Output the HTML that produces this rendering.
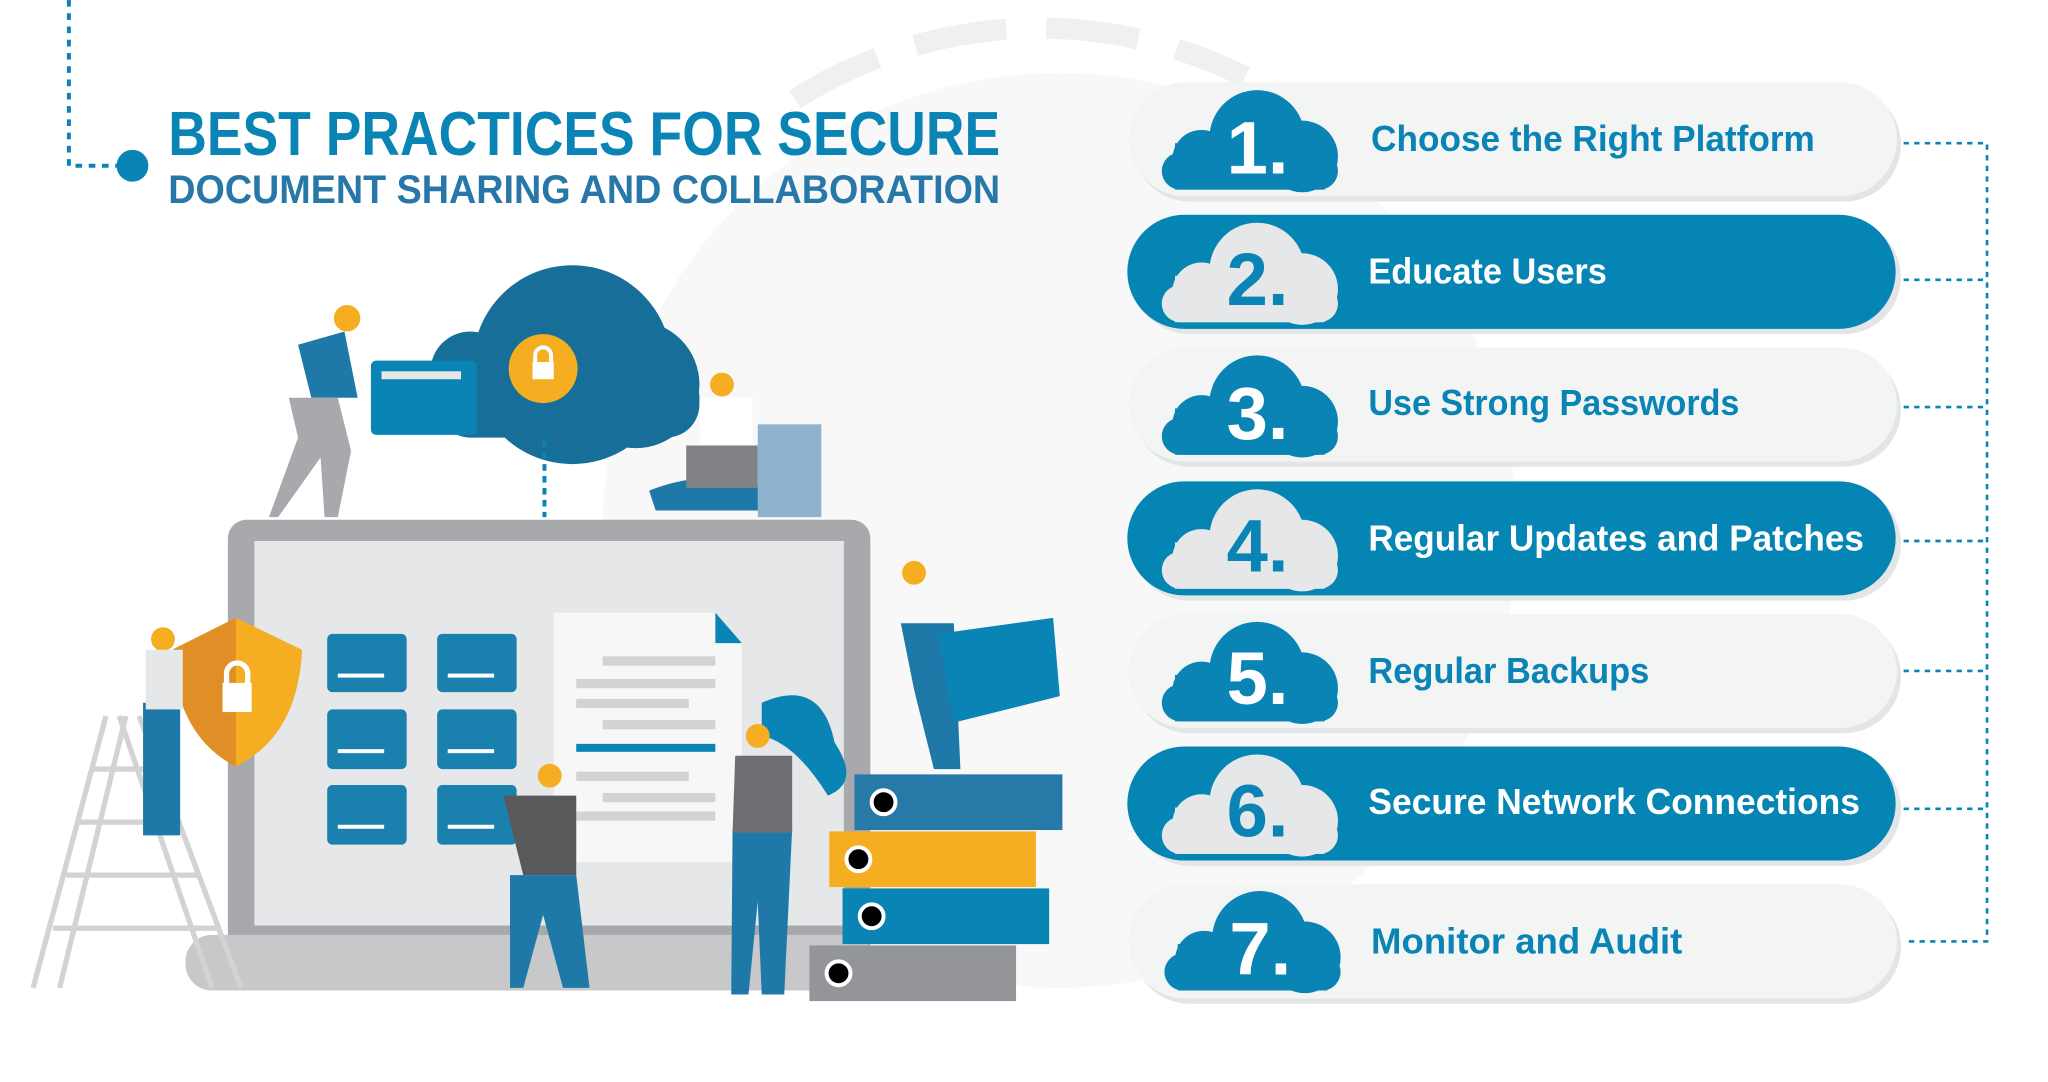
<!DOCTYPE html>
<html><head><meta charset="utf-8"><style>html,body{margin:0;padding:0;background:#fff}svg{display:block}</style></head>
<body>
<svg width="2048" height="1082" viewBox="0 0 1546 816" preserveAspectRatio="none" xmlns="http://www.w3.org/2000/svg" font-family="Liberation Sans, sans-serif">
<defs>
<g id="cl"><circle cx="72" cy="36" r="36"/><circle cx="30" cy="52" r="22"/><circle cx="106" cy="50" r="27"/><rect x="0" y="47" width="133" height="28" rx="14"/><rect x="10" y="40" width="113" height="35"/></g>
</defs>
<!-- background circle -->
<circle cx="800" cy="400" r="345" fill="#f8f8f8"/>
<path d="M600 75 A345 345 0 0 1 940 58" stroke="#f0f0f0" stroke-width="16" fill="none" stroke-dasharray="70 30"/>
<!-- title connector -->
<path d="M52 0 V125 H95" stroke="#0a84b5" stroke-width="3" fill="none" stroke-dasharray="5 5"/>
<circle cx="100" cy="125" r="12" fill="#0a84b5"/>
<text x="127" y="117" font-size="47" font-weight="bold" fill="#0a84b5" textLength="628" lengthAdjust="spacingAndGlyphs">BEST PRACTICES FOR SECURE</text>
<text x="127" y="153" font-size="30" font-weight="bold" fill="#2778a8" textLength="628" lengthAdjust="spacingAndGlyphs">DOCUMENT SHARING AND COLLABORATION</text>
<!-- right connectors -->
<g stroke="#0a84b5" stroke-width="2" stroke-dasharray="4 4" fill="none">
<path d="M1437 108 H1500 V710 H1437"/><path d="M1437 211 H1500"/><path d="M1437 307 H1500"/><path d="M1437 408 H1500"/><path d="M1437 506 H1500"/><path d="M1437 610 H1500"/>
</g>
<!-- pills -->
<g>
<rect x="855" y="66" width="580" height="86" rx="43" fill="#e3e5e6"/><rect x="852" y="62" width="580" height="86" rx="43" fill="#f3f4f4"/>
<rect x="855" y="166" width="580" height="86" rx="43" fill="#e3e5e6"/><rect x="851" y="162" width="580" height="86" rx="43" fill="#0585b4"/>
<rect x="855" y="266" width="580" height="86" rx="43" fill="#e3e5e6"/><rect x="852" y="262" width="580" height="86" rx="43" fill="#f3f4f4"/>
<rect x="855" y="367" width="580" height="86" rx="43" fill="#e3e5e6"/><rect x="851" y="363" width="580" height="86" rx="43" fill="#0585b4"/>
<rect x="855" y="467" width="580" height="86" rx="43" fill="#e3e5e6"/><rect x="852" y="463" width="580" height="86" rx="43" fill="#f3f4f4"/>
<rect x="855" y="567" width="580" height="86" rx="43" fill="#e3e5e6"/><rect x="851" y="563" width="580" height="86" rx="43" fill="#0585b4"/>
<rect x="855" y="671" width="580" height="86" rx="43" fill="#e3e5e6"/><rect x="852" y="667" width="580" height="86" rx="43" fill="#f3f4f4"/>
</g>
<g fill="#0a83b5"><use href="#cl" transform="translate(877,68)"/><use href="#cl" transform="translate(877,268)"/><use href="#cl" transform="translate(877,469)"/><use href="#cl" transform="translate(879,672)"/></g>
<g fill="#e6e7e8"><use href="#cl" transform="translate(877,168)"/><use href="#cl" transform="translate(877,369)"/><use href="#cl" transform="translate(877,569)"/></g>
<g font-size="56" font-weight="bold">
<text x="926" y="131" fill="#fff">1.</text><text x="926" y="230" fill="#0a83b5">2.</text><text x="926" y="331" fill="#fff">3.</text>
<text x="926" y="431" fill="#0a83b5">4.</text><text x="926" y="531" fill="#fff">5.</text><text x="926" y="631" fill="#0a83b5">6.</text><text x="928" y="735" fill="#fff">7.</text>
</g>
<g font-size="27" font-weight="bold">
<text x="1035" y="114" fill="#0a83b5" textLength="335" lengthAdjust="spacingAndGlyphs">Choose the Right Platform</text>
<text x="1033" y="214" fill="#fff" textLength="180" lengthAdjust="spacingAndGlyphs">Educate Users</text>
<text x="1033" y="313" fill="#0a83b5" textLength="280" lengthAdjust="spacingAndGlyphs">Use Strong Passwords</text>
<text x="1033" y="415" fill="#fff" textLength="374" lengthAdjust="spacingAndGlyphs">Regular Updates and Patches</text>
<text x="1033" y="515" fill="#0a83b5" textLength="212" lengthAdjust="spacingAndGlyphs">Regular Backups</text>
<text x="1033" y="614" fill="#fff" textLength="371" lengthAdjust="spacingAndGlyphs">Secure Network Connections</text>
<text x="1035" y="719" fill="#0a83b5" textLength="235" lengthAdjust="spacingAndGlyphs">Monitor and Audit</text>
</g>
<!-- monitor -->
<rect x="172" y="392" width="485" height="354" rx="14" fill="#a7a9ac"/>
<rect x="192" y="408" width="445" height="290" fill="#e6e7e8"/>
<rect x="140" y="705" width="520" height="42" rx="20" fill="#c7c8ca"/>
<!-- cloud -->
<g fill="#176f99"><circle cx="432" cy="275" r="75"/><circle cx="355" cy="280" r="30"/><circle cx="480" cy="290" r="48"/><rect x="330" y="275" width="198" height="55" rx="25"/></g>
<circle cx="410" cy="278" r="26" fill="#f5ae22"/><rect x="402" y="273" width="16" height="13" fill="#fff"/><path d="M404 274 v-6 a6 6 0 0 1 12 0 v6" stroke="#fff" stroke-width="3" fill="none"/>
<path d="M411 332 V390" stroke="#0a84b5" stroke-width="3" stroke-dasharray="5 4"/>
<rect x="280" y="272" width="80" height="56" rx="4" fill="#0a84b5"/><rect x="288" y="280" width="60" height="6" fill="#e6e7e8"/>
<!-- folders -->
<g fill="#1a80ad">
<rect x="247" y="478" width="60" height="44" rx="4"/><rect x="330" y="478" width="60" height="44" rx="4"/>
<rect x="247" y="535" width="60" height="45" rx="4"/><rect x="330" y="535" width="60" height="45" rx="4"/>
<rect x="247" y="592" width="60" height="45" rx="4"/><rect x="330" y="592" width="60" height="45" rx="4"/>
</g>
<g fill="#fff"><rect x="255" y="508" width="35" height="3"/><rect x="338" y="508" width="35" height="3"/><rect x="255" y="565" width="35" height="3"/><rect x="338" y="565" width="35" height="3"/><rect x="255" y="622" width="35" height="3"/><rect x="338" y="622" width="35" height="3"/></g>
<!-- document -->
<path d="M418 462 H540 L560 485 V650 H418 Z" fill="#f7f7f7"/><path d="M540 462 L560 485 H540 Z" fill="#0a84b5"/>
<g fill="#d1d3d4"><rect x="455" y="495" width="85" height="7"/><rect x="435" y="512" width="105" height="7"/><rect x="435" y="527" width="85" height="7"/><rect x="455" y="543" width="85" height="7"/><rect x="435" y="582" width="85" height="7"/><rect x="455" y="598" width="85" height="7"/><rect x="435" y="612" width="105" height="7"/></g>
<rect x="435" y="561" width="105" height="6" fill="#0a84b5"/>
<!-- shield -->
<path d="M178 466 L228 490 Q225 555 178 578 Q133 555 130 490 Z" fill="#f5ae22"/><path d="M178 466 L178 578 Q133 555 130 490 Z" fill="#e08e26"/>
<rect x="168" y="515" width="22" height="22" fill="#fff"/><path d="M171 516 v-8 a8 8 0 0 1 16 0 v8" stroke="#fff" stroke-width="4" fill="none"/>
<!-- ladder -->
<g stroke="#d1d3d4" stroke-width="4"><path d="M25 745 L80 540 M95 540 L45 745 M90 540 L160 745 M105 540 L182 745"/><path d="M40 700 H165 M50 660 H150 M58 620 H135 M68 580 H120"/></g>
<!-- people (simplified) -->
<g fill="#1f79a8"><rect x="108" y="530" width="28" height="100"/><path d="M225 260 L260 250 L270 300 L235 300Z"/><path d="M380 600 L435 600 L435 660 L395 660Z" fill="#58595b"/><path d="M385 660 L435 660 L445 745 L425 745 L410 690 L395 745 L385 745Z"/><path d="M553 625 L598 625 L592 750 L575 750 L572 680 L565 750 L552 750Z"/><path d="M680 470 L720 470 L725 580 L705 580 L690 520Z"/><path d="M490 370 Q540 350 590 372 L590 385 L495 385Z"/></g>
<path d="M555 570 L598 570 L598 628 L553 628Z" fill="#6d6e71"/>
<path d="M575 530 Q620 510 630 560 Q650 590 625 600 Q600 560 575 555Z" fill="#0a84b5"/>
<path d="M218 300 L255 300 L265 340 L255 390 L245 390 L242 345 L210 390 L203 390 L225 330Z" fill="#a7a9ac"/>
<circle cx="262" cy="240" r="10" fill="#f5ae22"/><circle cx="415" cy="585" r="9" fill="#f5ae22"/><circle cx="572" cy="555" r="9" fill="#f5ae22"/><circle cx="690" cy="432" r="9" fill="#f5ae22"/><circle cx="123" cy="482" r="9" fill="#f5ae22"/><circle cx="545" cy="290" r="9" fill="#f5ae22"/>
<rect x="110" y="490" width="28" height="45" fill="#e6e7e8"/><rect x="528" y="300" width="40" height="35" fill="#fff"/>
<rect x="518" y="336" width="54" height="32" fill="#808285"/>
<rect x="572" y="320" width="48" height="70" fill="#8fb3cf"/>
<path d="M708 478 L795 466 L800 525 L720 545Z" fill="#0a84b5"/>
<!-- binders -->
<rect x="645" y="584" width="157" height="42" fill="#2779a8"/><rect x="626" y="627" width="156" height="42" fill="#f5ae22"/><rect x="636" y="670" width="156" height="42" fill="#0a84b5"/><rect x="611" y="713" width="156" height="42" fill="#939598"/>
<g fill="#000" stroke="#fff" stroke-width="3"><circle cx="667" cy="605" r="9"/><circle cx="648" cy="648" r="9"/><circle cx="658" cy="691" r="9"/><circle cx="633" cy="734" r="9"/></g>
</svg>
</body></html>
